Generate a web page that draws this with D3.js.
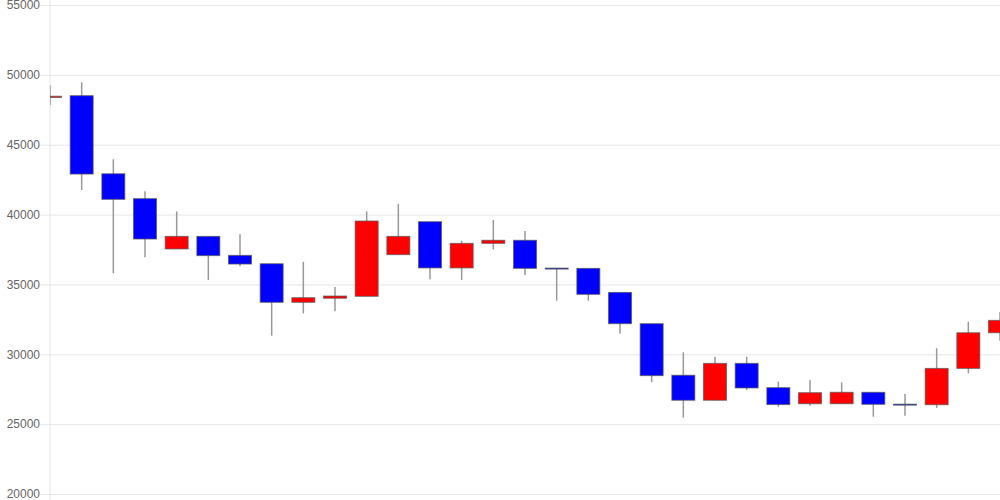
<!DOCTYPE html>
<html>
<head>
<meta charset="utf-8">
<script src="https://cdn.jsdelivr.net/npm/d3@7"></script>
<style>
  body { margin: 0; background: #fff; }
  svg { display: block; font-family: "Liberation Sans", Arial, sans-serif; }
</style>
</head>
<body>
<svg width="1000" height="500"></svg>
<script>
// one entry per session, oldest first
const OPEN  = [48380, 48510, 42920, 41140, 37540, 38440, 37080, 36480, 33720, 34010, 34150, 37130, 39490, 36180, 37940, 38160,
               36170, 36150, 34430, 32190, 28500, 26710, 29350, 27610, 26460, 26460, 27280, 26430, 26390, 28990, 31540];
const HIGH  = [49270, 49470, 43960, 41670, 40230, 38440, 38590, 36480, 36620, 34820, 40230, 40760, 39490, 38130, 39610, 38820,
               36170, 36150, 34430, 32190, 30140, 29830, 29830, 28040, 28160, 28000, 27280, 27160, 30430, 32330, 33030];
const LOW   = [47840, 41760, 35800, 36940, 37540, 35320, 36320, 31330, 32930, 33080, 34150, 37130, 35370, 35320, 37510, 35680,
               33840, 33840, 31470, 28000, 25460, 26710, 27440, 26250, 26320, 26460, 25530, 25600, 26160, 28640, 30970];
const CLOSE = [48470, 42900, 41090, 38250, 38440, 37060, 36460, 33720, 34050, 34170, 39540, 38440, 36180, 37940, 38160, 36150,
               36150, 34290, 32190, 28470, 26710, 29350, 27590, 26400, 27250, 27280, 26420, 26410, 28990, 31540, 32430];
const Y_TICKS = [20000, 25000, 30000, 35000, 40000, 45000, 50000, 55000];

const candles = OPEN.map((o, i) => ({ i: i, open: o, high: HIGH[i], low: LOW[i], close: CLOSE[i] }));

const M = { left: 50, right: 1000, top: 5, bottom: 494 };
const svg = d3.select('svg');

const x = d3.scaleLinear().domain([0, candles.length - 1]).range([M.left, M.right]);
const y = d3.scaleLinear().domain([20000, 55000]).range([M.bottom, M.top]);
const bodyW = 23;

// grid + labels
const yAxis = svg.append('g')
  .attr('transform', `translate(${M.left},0)`)
  .call(d3.axisLeft(y).tickValues(Y_TICKS).tickSize(-(M.right - M.left)).tickPadding(10).tickFormat(d3.format('d')));
yAxis.select('.domain').remove();
yAxis.selectAll('.tick line').attr('x1', -10).attr('stroke', '#e6e6e6');
yAxis.selectAll('.tick text').attr('fill', '#666').style('font-size', '12px');

svg.append('line')
  .attr('x1', M.left).attr('x2', M.left).attr('y1', 0).attr('y2', 500)
  .attr('stroke', '#e6e6e6');

svg.append('clipPath').attr('id', 'plot')
  .append('rect').attr('x', M.left).attr('y', 0).attr('width', M.right - M.left + bodyW).attr('height', 500);

const g = svg.append('g').attr('clip-path', 'url(#plot)');

g.selectAll('.wick')
  .data(candles)
  .enter()
  .append('line')
  .classed('wick', true)
  .attr('x1', d => x(d.i)).attr('x2', d => x(d.i))
  .attr('y1', d => y(d.high)).attr('y2', d => y(d.low))
  .attr('stroke', '#999')
  .attr('stroke-width', 1.5);

g.selectAll('.body')
  .data(candles)
  .enter()
  .append('rect')
  .classed('body', true)
  .attr('x', d => x(d.i) - bodyW / 2)
  .attr('width', bodyW)
  .attr('y', d => y(Math.max(d.open, d.close)))
  .attr('height', d => Math.max(1, Math.abs(y(d.open) - y(d.close))))
  .attr('fill', d => d.close >= d.open ? '#ff0000' : '#0000ff')
  .attr('stroke', '#555')
  .attr('stroke-opacity', 0.7);
</script>
</body>
</html>
